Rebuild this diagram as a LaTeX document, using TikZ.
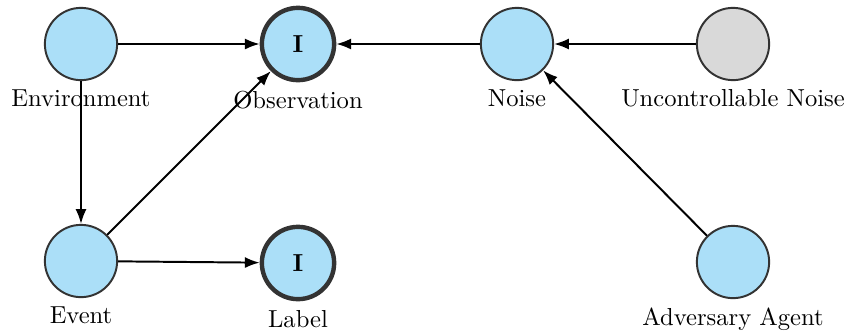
\documentclass[tikz,border=0pt]{standalone}
\definecolor{nodeBlue}{HTML}{ABDFF8}
\definecolor{nodeGrey}{HTML}{D9D9D9}
\definecolor{rimGrey}{HTML}{333333}
\usetikzlibrary{
  arrows.meta,
  positioning
}

\begin{document}
\begin{tikzpicture}[
    x = 0.0143cm,
    y = -0.0143cm,
    % Variable nodes.
    var/.style = {
      circle,
      minimum size = 29.4pt,
      inner sep = 0pt,
      fill = nodeBlue,
      draw = rimGrey,
      line width = .8pt,
      label distance = 2.8pt
    },
    % Observed variables.
    observed/.style = {
      var,
      line width = 1.8pt
    },
    % Uncontrolled variables.
    hidden/.style = {
      var,
      fill = nodeGrey
    },
    % Edge style.
    edge/.style = {
      -{Latex[length=6pt, width=4.5pt]},
      line width = .8pt
    }
  ]
  \useasboundingbox (0,0) rectangle (851,331);

  % Nodes.
  \node[var, label=below:Environment] (env) at (81,44) {};
  \node[observed, label=below:Observation] (obs) at (298,44) {\textbf{I}};
  \node[var, label=below:Noise] (noise) at (517,44) {};
  \node[hidden, label=below:Uncontrollable Noise] (unc) at (733,44) {};
  \node[var, label=below:Event] (event) at (81,261) {};
  \node[observed, label=below:Label] (lab) at (298,263) {\textbf{I}};
  \node[var, label=below:Adversary Agent] (adv) at (733,262) {};

  % Edges.
  \draw[edge] (env) -- (obs);
  \draw[edge] (env) -- (event);
  \draw[edge] (event) -- (obs);
  \draw[edge] (event) -- (lab);
  \draw[edge] (noise) -- (obs);
  \draw[edge] (unc) -- (noise);
  \draw[edge] (adv) -- (noise);
\end{tikzpicture}
\end{document}
